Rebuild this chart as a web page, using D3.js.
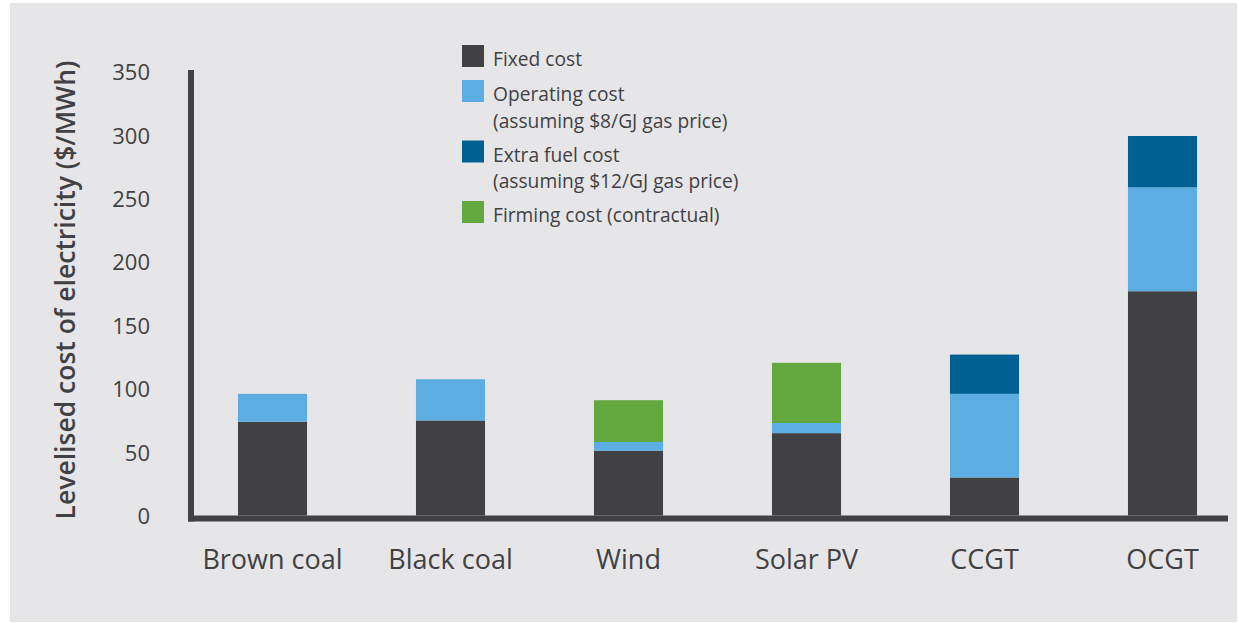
<!DOCTYPE html>
<html>
<head>
<meta charset="utf-8">
<script src="https://cdn.jsdelivr.net/npm/d3@7"></script>
<style>
  html, body { margin: 0; padding: 0; background: #ffffff; }
  svg { display: block; font-family: "Open Sans", "Noto Sans", sans-serif; }
</style>
</head>
<body>
<svg id="chart" width="1239" height="623"></svg>
<script>
// Levelised cost of electricity by technology, stacked by cost component ($/MWh)
const categories = ["Brown coal", "Black coal", "Wind", "Solar PV", "CCGT", "OCGT"];
const fixedCost     = [74, 75, 51, 65, 30, 177];
const operatingCost = [22, 32.5, 7, 8, 66, 82];
const extraFuelCost = [0, 0, 0, 0, 31, 40.5];
const firmingCost   = [0, 0, 33, 47.5, 0, 0];
const yTicks = [0, 50, 100, 150, 200, 250, 300, 350];

const seriesKeys = ["fixed", "operating", "extra", "firming"];
const seriesLabels = {
  fixed: ["Fixed cost"],
  operating: ["Operating cost", "(assuming $8/GJ gas price)"],
  extra: ["Extra fuel cost", "(assuming $12/GJ gas price)"],
  firming: ["Firming cost (contractual)"]
};
const colors = { fixed: "#414143", operating: "#5badE2", extra: "#006092", firming: "#63a83f" };
const textColor = "#414143";

const rows = categories.map((c, i) => ({
  category: c,
  fixed: fixedCost[i],
  operating: operatingCost[i],
  extra: extraFuelCost[i],
  firming: firmingCost[i]
}));

const svg = d3.select("#chart");

// panel background
svg.append("rect")
  .attr("x", 10).attr("y", 3)
  .attr("width", 1227).attr("height", 619)
  .attr("fill", "#e6e6e8");

const x = d3.scaleBand()
  .domain(categories)
  .range([183.5, 1251.5])
  .paddingInner(0.612)
  .paddingOuter(0.306);

const y = d3.scaleLinear()
  .domain([0, 350])
  .range([515.5, 72]);

const stack = d3.stack().keys(seriesKeys);
const layers = stack(rows);

// stacked bars
svg.append("g")
  .selectAll("g")
  .data(layers)
  .join("g")
    .attr("fill", d => colors[d.key])
  .selectAll("rect")
  .data(d => d.filter(s => s[1] - s[0] > 0))
  .join("rect")
    .attr("x", d => x(d.data.category))
    .attr("width", x.bandwidth())
    .attr("y", d => y(d[1]))
    .attr("height", d => y(d[0]) - y(d[1]));

// axis lines
const axisColor = "#414143";
svg.append("line")
  .attr("x1", 191).attr("x2", 191)
  .attr("y1", y(350) - 2).attr("y2", y(0) + 6)
  .attr("stroke", axisColor).attr("stroke-width", 6);
svg.append("line")
  .attr("x1", 188).attr("x2", 1228)
  .attr("y1", y(0) + 3).attr("y2", y(0) + 3)
  .attr("stroke", axisColor).attr("stroke-width", 6);

// y tick labels
const yAxis = svg.append("g")
  .attr("transform", "translate(150,0)")
  .call(d3.axisLeft(y).tickValues(yTicks).tickSize(0).tickPadding(0));
yAxis.select(".domain").remove();
yAxis.selectAll("text")
  .attr("font-size", 22)
  .attr("font-family", "\"Open Sans\", sans-serif")
  .attr("fill", textColor)
  .attr("dy", "0.36em");

// x category labels
const xAxis = svg.append("g")
  .attr("transform", `translate(0,${y(0)})`)
  .call(d3.axisBottom(x).tickSize(0).tickPadding(0));
xAxis.select(".domain").remove();
xAxis.selectAll("text")
  .attr("font-size", 27)
  .attr("font-family", "\"Open Sans\", sans-serif")
  .attr("fill", textColor)
  .attr("dy", null)
  .attr("y", 53);

// y axis title
svg.append("text")
  .attr("transform", "translate(75,290) rotate(-90)")
  .attr("text-anchor", "middle")
  .attr("font-size", 26.5)
  .attr("font-weight", 600)
  .attr("fill", textColor)
  .text("Levelised cost of electricity ($/MWh)");

// legend
const legendBaselines = { fixed: 66, operating: 101, extra: 161.5, firming: 222 };
const legendLineGap = 26.5;
const legend = svg.append("g");
seriesKeys.forEach(k => {
  const b = legendBaselines[k];
  legend.append("rect")
    .attr("x", 462).attr("y", b - 21)
    .attr("width", 22).attr("height", 22)
    .attr("fill", colors[k]);
  seriesLabels[k].forEach((line, j) => {
    legend.append("text")
      .attr("x", 493).attr("y", b + j * legendLineGap)
      .attr("font-size", 19.2)
      .attr("fill", textColor)
      .text(line);
  });
});
</script>
</body>
</html>
